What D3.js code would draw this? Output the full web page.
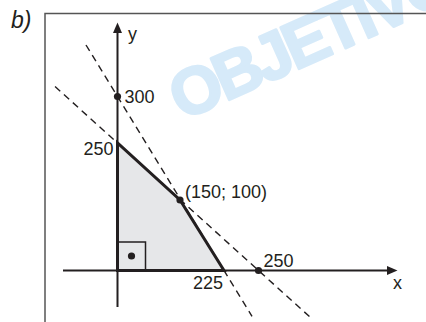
<!DOCTYPE html>
<html>
<head>
<meta charset="utf-8">
<script src="https://cdn.jsdelivr.net/npm/d3@7"></script>
<style>
  html, body { margin: 0; padding: 0; background: #fff; }
  svg { display: block; }
  text { font-family: "Liberation Sans", Arial, sans-serif; }
</style>
</head>
<body>
<svg id="chart" width="426" height="322"></svg>
<script>
// ---- data ----
const panelLabel = "b)";
const axisNames = ["x", "y"];
const xKeyValues = [0, 150, 225, 250];          // values anchoring the (schematic) x scale
const yKeyValues = [0, 100, 250, 300];          // values anchoring the (schematic) y scale
const lineXIntercepts = [250, 225];             // x + y = 250 ; 4x + 3y = 900
const lineYIntercepts = [250, 300];
const regionVertices = [[0, 0], [0, 250], [150, 100], [225, 0]];
const markedPoints = [[0, 300], [150, 100], [250, 0]];
const markedLabels = ["300", "(150; 100)", "250"];
const cornerPoints = [[0, 250], [225, 0]];
const cornerLabels = ["250", "225"];
const watermarkText = "OBJETIVO";

// ---- scales (drawing is schematic, so piecewise-linear scales) ----
const x = d3.scaleLinear().domain(xKeyValues).range([117.5, 180, 224, 258.5]);
const y = d3.scaleLinear().domain(yKeyValues).range([270.5, 200, 143, 96.5]);

const svg = d3.select("#chart");
const ink = "#231f20";

// watermark
svg.append("text")
  .attr("transform", "translate(182,121) rotate(-24)")
  .attr("font-size", 66).attr("font-weight", "bold")
  .attr("letter-spacing", -4)
  .attr("fill", "#d6eaf9").attr("stroke", "#d6eaf9").attr("stroke-width", 2.5)
  .attr("stroke-linejoin", "round")
  .text(watermarkText);

// frame
svg.append("path")
  .attr("d", "M45,322 L45,13.5 L426,13.5")
  .attr("fill", "none").attr("stroke", "#555").attr("stroke-width", 1.5);

svg.append("text")
  .attr("x", 11).attr("y", 28)
  .attr("font-size", 23).attr("font-style", "italic").attr("fill", ink)
  .text(panelLabel);

// feasible region fill
const line = d3.line().x(d => x(d[0])).y(d => y(d[1]));
svg.append("path")
  .attr("d", line(regionVertices) + "Z")
  .attr("fill", "#e6e7e9").attr("stroke", "none");

// dashed constraint lines, extended beyond their intercepts
const ext = [[-0.443, 1.379], [-0.296, 1.263]];
lineXIntercepts.forEach((xi, i) => {
  const yi = lineYIntercepts[i];
  const p0 = [x(0), y(yi)], p1 = [x(xi), y(0)];
  const [t0, t1] = ext[i];
  svg.append("line")
    .attr("x1", p0[0] + (p1[0] - p0[0]) * t0).attr("y1", p0[1] + (p1[1] - p0[1]) * t0)
    .attr("x2", p0[0] + (p1[0] - p0[0]) * t1).attr("y2", p0[1] + (p1[1] - p0[1]) * t1)
    .attr("stroke", ink).attr("stroke-width", 1.4)
    .attr("stroke-dasharray", "7,5");
});

// axes
const ox = x(0), oy = y(0);
svg.append("line").attr("x1", 63).attr("y1", oy).attr("x2", 390).attr("y2", oy)
  .attr("stroke", ink).attr("stroke-width", 2);
svg.append("path").attr("d", `M397.5,${oy} L387,${oy - 4.5} L387,${oy + 4.5} Z`).attr("fill", ink);
svg.append("line").attr("x1", ox).attr("y1", 307).attr("x2", ox).attr("y2", 30)
  .attr("stroke", ink).attr("stroke-width", 2);
svg.append("path").attr("d", `M${ox},22.5 L${ox - 4.5},33 L${ox + 4.5},33 Z`).attr("fill", ink);

svg.append("text").attr("x", 393).attr("y", 289).attr("font-size", 18).attr("fill", ink).text(axisNames[0]);
svg.append("text").attr("x", 128).attr("y", 40).attr("font-size", 18).attr("fill", ink).text(axisNames[1]);

// region border
svg.append("path")
  .attr("d", line(regionVertices) + "Z")
  .attr("fill", "none").attr("stroke", ink).attr("stroke-width", 3)
  .attr("stroke-linejoin", "miter");

// right-angle marker
svg.append("rect").attr("x", ox).attr("y", oy - 28.5).attr("width", 28).attr("height", 28.5)
  .attr("fill", "none").attr("stroke", ink).attr("stroke-width", 1.5);
svg.append("circle").attr("cx", ox + 14).attr("cy", oy - 14.5).attr("r", 3.6).attr("fill", ink);

// marked points
svg.selectAll("circle.pt").data(markedPoints).join("circle")
  .attr("class", "pt")
  .attr("cx", d => x(d[0])).attr("cy", d => y(d[1]))
  .attr("r", 3.6).attr("fill", ink);

const markedOffsets = [[7, 6], [5, -2], [5, -3.5]];
svg.selectAll("text.ml").data(markedPoints).join("text")
  .attr("class", "ml")
  .attr("x", (d, i) => x(d[0]) + markedOffsets[i][0])
  .attr("y", (d, i) => y(d[1]) + markedOffsets[i][1])
  .attr("font-size", 18).attr("fill", ink)
  .text((d, i) => markedLabels[i]);

// corner labels
svg.append("text").attr("x", x(cornerPoints[0][0]) - 4).attr("y", y(cornerPoints[0][1]) + 12)
  .attr("text-anchor", "end").attr("font-size", 18).attr("fill", ink).text(cornerLabels[0]);
svg.append("text").attr("x", x(cornerPoints[1][0]) - 1).attr("y", y(cornerPoints[1][1]) + 18.5)
  .attr("text-anchor", "end").attr("font-size", 18).attr("fill", ink).text(cornerLabels[1]);
</script>
</body>
</html>
